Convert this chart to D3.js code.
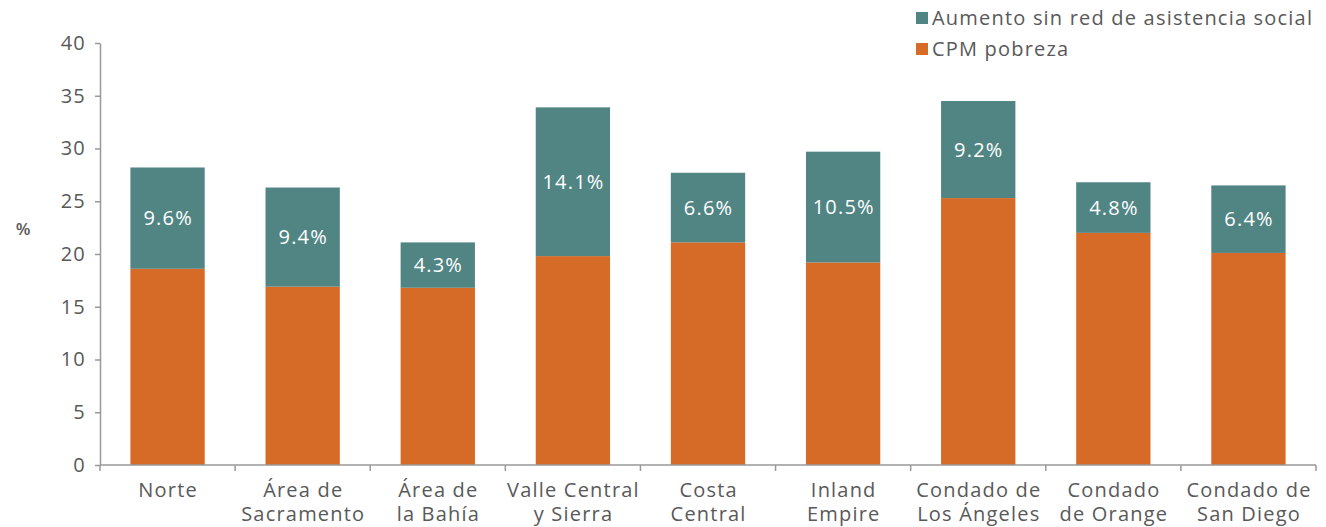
<!DOCTYPE html>
<html>
<head>
<meta charset="utf-8">
<script src="https://cdn.jsdelivr.net/npm/d3@7"></script>
<style>
  body { margin: 0; background: #fff; }
  text { font-family: "Open Sans", sans-serif; fill: #595959; letter-spacing: 1.2px; }
</style>
</head>
<body>
<div id="chart"></div>
<script>
var categories = [
    ["Norte"],
    ["Área de", "Sacramento"],
    ["Área de", "la Bahía"],
    ["Valle Central", "y Sierra"],
    ["Costa", "Central"],
    ["Inland", "Empire"],
    ["Condado de", "Los Ángeles"],
    ["Condado", "de Orange"],
    ["Condado de", "San Diego"]
];
var cpmPobreza = [18.6, 16.9, 16.8, 19.8, 21.1, 19.2, 25.3, 22.0, 20.1];
var aumento = [9.6, 9.4, 4.3, 14.1, 6.6, 10.5, 9.2, 4.8, 6.4];
var yTicks = [0, 5, 10, 15, 20, 25, 30, 35, 40];
var seriesNames = ["Aumento sin red de asistencia social", "CPM pobreza"];
var colors = {"CPM pobreza": "#d56b27", "Aumento sin red de asistencia social": "#508584"};

var W = 1326, H = 527;
var margin = {top: 43, right: 10, bottom: 62, left: 100};
var width = W - margin.left - margin.right;
var height = H - margin.top - margin.bottom;
var fontFam = "'Open Sans', sans-serif";

var svg = d3.select("#chart").append("svg")
    .attr("width", W)
    .attr("height", H)
    .append("g")
    .attr("transform", "translate(" + margin.left + "," + margin.top + ")");

var idx = d3.range(categories.length);
var x = d3.scaleBand().domain(idx).range([0, width]).paddingInner(0.45).paddingOuter(0.225);
var xb = d3.scaleBand().domain(idx).range([0, width]);
var y = d3.scaleLinear().domain([0, 40]).range([height, 0]);

// bars
var data = idx.map(i => ({i: i, cpm: cpmPobreza[i], aum: aumento[i]}));
var stacked = d3.stack().keys(["cpm", "aum"])(data);
var keyName = {cpm: "CPM pobreza", aum: "Aumento sin red de asistencia social"};

svg.append("g").selectAll("g")
    .data(stacked)
    .join("g")
    .attr("fill", d => colors[keyName[d.key]])
    .selectAll("rect")
    .data(d => d)
    .join("rect")
    .attr("x", d => x(d.data.i))
    .attr("y", d => y(d[1]))
    .attr("height", d => y(d[0]) - y(d[1]))
    .attr("width", x.bandwidth());

// value labels
svg.append("g").selectAll("text")
    .data(data)
    .join("text")
    .attr("x", d => x(d.i) + x.bandwidth() / 2 + 0.6)
    .attr("y", d => y(d.cpm + d.aum / 2))
    .attr("dy", "0.35em")
    .attr("text-anchor", "middle")
    .style("fill", "#fff")
    .style("font-size", "20px")
    .text(d => d.aum.toFixed(1) + "%");

// y axis
var yAxis = svg.append("g")
    .call(d3.axisLeft(y).tickValues(yTicks).tickSize(5).tickPadding(9).tickSizeOuter(0));
yAxis.select(".domain").attr("stroke", "#999").attr("stroke-width", 1.5);
yAxis.selectAll(".tick line").attr("stroke", "#999").attr("stroke-width", 1.5);
yAxis.selectAll(".tick text").style("font-size", "20px").style("fill", "#595959")
    .style("font-family", fontFam);

// x axis
var xg = svg.append("g").attr("transform", "translate(0," + height + ")");
xg.append("line").attr("x1", 0).attr("x2", width).attr("stroke", "#999").attr("stroke-width", 1.5);
xg.selectAll(".xtick")
    .data(d3.range(categories.length + 1))
    .join("line")
    .attr("x1", d => d < categories.length ? xb(d) : width)
    .attr("x2", d => d < categories.length ? xb(d) : width)
    .attr("y1", 0).attr("y2", 6)
    .attr("stroke", "#999").attr("stroke-width", 1.5);
categories.forEach(function(lines, i) {
    lines.forEach(function(line, j) {
        xg.append("text")
            .attr("text-anchor", "middle")
            .attr("x", xb(i) + xb.bandwidth() / 2 + 0.6)
            .attr("y", 32 + j * 24)
            .style("font-size", "20px")
            .text(line);
    });
});

// y label
svg.append("text")
    .attr("x", -77)
    .attr("y", y(22.4))
    .attr("dy", "0.35em")
    .attr("text-anchor", "middle")
    .style("font-size", "17px")
    .style("font-weight", "600")
    .style("letter-spacing", "0px")
    .text("%");

// legend
var legend = svg.append("g").attr("transform", "translate(" + (916 - margin.left) + "," + (-margin.top) + ")");
legend.selectAll("rect")
    .data(seriesNames)
    .join("rect")
    .attr("x", 0)
    .attr("y", (d, i) => 12 + i * 31)
    .attr("width", 12)
    .attr("height", 12)
    .attr("fill", d => colors[d]);
legend.selectAll("text")
    .data(seriesNames)
    .join("text")
    .attr("x", 16)
    .attr("y", (d, i) => 18 + i * 31)
    .attr("dy", "0.35em")
    .style("font-size", "20px")
    .text(d => d);
</script>
</body>
</html>
